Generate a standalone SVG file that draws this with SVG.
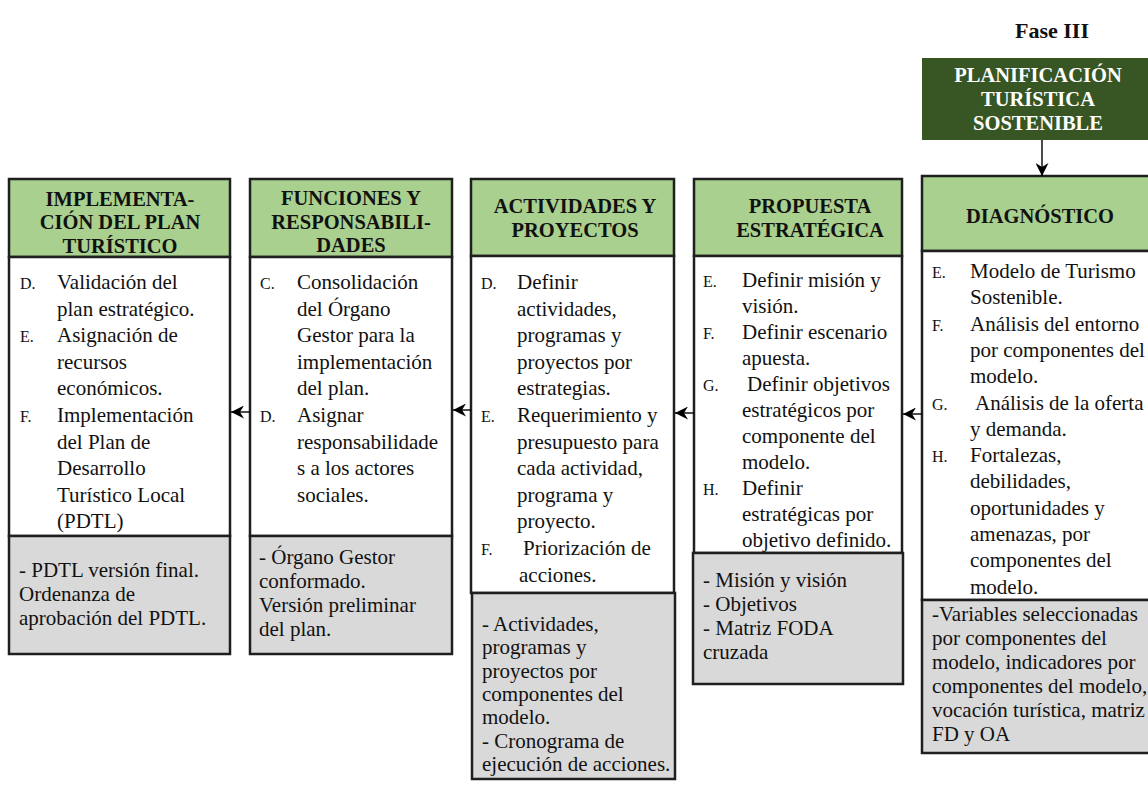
<svg xmlns="http://www.w3.org/2000/svg" width="1148" height="790" viewBox="0 0 1148 790">
<defs>
<style>
text{font-family:"Liberation Serif","Times New Roman",serif;fill:#111;}
.hd{fill:#A9D08E;stroke:#1f1f1f;stroke-width:2.5;}
.bd{fill:#ffffff;stroke:#1f1f1f;stroke-width:2.5;}
.gr{fill:#D9D9D9;stroke:#1f1f1f;stroke-width:2.5;}
.ht{font-size:20.5px;font-weight:bold;text-anchor:middle;}
.tx{font-size:21px;}
.lb{font-size:16px;}
.gt{font-size:21px;}
.cn{stroke:#000;stroke-width:1.4;fill:none;}
</style>
<marker id="ah" markerUnits="userSpaceOnUse" markerWidth="15" markerHeight="13" refX="13" refY="6.5" orient="auto">
<path d="M0,0 L13,6.5 L0,13 L4,6.5 Z" fill="#000"/>
</marker>
</defs>
<rect width="1148" height="790" fill="#ffffff"/>

<g id="fase">
<text x="1052" y="38" style="font-size:22px;font-weight:bold;text-anchor:middle">Fase III</text>
</g>

<g id="planificacion">
<rect x="922" y="58" width="226" height="82" fill="#375623"/>
<text class="ht" x="1038" y="82" style="fill:#ffffff">PLANIFICACIÓN</text>
<text class="ht" x="1038" y="106" style="fill:#ffffff">TURÍSTICA</text>
<text class="ht" x="1038" y="130" style="fill:#ffffff">SOSTENIBLE</text>
</g>

<g id="implementacion">
<rect class="hd" x="9" y="179" width="221" height="78"/>
<rect class="bd" x="9" y="257" width="221" height="279"/>
<rect class="gr" x="9" y="536" width="221" height="118"/>
<text class="ht" x="120" y="206">IMPLEMENTA-</text>
<text class="ht" x="120" y="229">CIÓN DEL PLAN</text>
<text class="ht" x="120" y="253">TURÍSTICO</text>
<text class="lb" x="20" y="289">D.</text>
<text class="tx" x="57" y="289">Validación del</text>
<text class="tx" x="57" y="315.6">plan estratégico.</text>
<text class="lb" x="20" y="342.2">E.</text>
<text class="tx" x="57" y="342.2">Asignación de</text>
<text class="tx" x="57" y="368.8">recursos</text>
<text class="tx" x="57" y="395.4">económicos.</text>
<text class="lb" x="20" y="422">F.</text>
<text class="tx" x="57" y="422">Implementación</text>
<text class="tx" x="57" y="448.6">del Plan de</text>
<text class="tx" x="57" y="475.2">Desarrollo</text>
<text class="tx" x="57" y="501.8">Turístico Local</text>
<text class="tx" x="57" y="528.4">(PDTL)</text>
<text class="gt" x="19" y="577">- PDTL versión final.</text>
<text class="gt" x="19" y="601">Ordenanza de</text>
<text class="gt" x="19" y="625">aprobación del PDTL.</text>
</g>

<g id="funciones">
<rect class="hd" x="250" y="179" width="202" height="78"/>
<rect class="bd" x="250" y="257" width="202" height="279"/>
<rect class="gr" x="250" y="536" width="202" height="118"/>
<text class="ht" x="351" y="205">FUNCIONES Y</text>
<text class="ht" x="351" y="229">RESPONSABILI-</text>
<text class="ht" x="351" y="252">DADES</text>
<text class="lb" x="260" y="289">C.</text>
<text class="tx" x="297" y="289">Consolidación</text>
<text class="tx" x="297" y="315.6">del Órgano</text>
<text class="tx" x="297" y="342.2">Gestor para la</text>
<text class="tx" x="297" y="368.8">implementación</text>
<text class="tx" x="297" y="395.4">del plan.</text>
<text class="lb" x="260" y="422">D.</text>
<text class="tx" x="297" y="422">Asignar</text>
<text class="tx" x="297" y="448.6">responsabilidade</text>
<text class="tx" x="297" y="475.2">s a los actores</text>
<text class="tx" x="297" y="501.8">sociales.</text>
<text class="gt" x="259" y="564">- Órgano Gestor</text>
<text class="gt" x="259" y="588">conformado.</text>
<text class="gt" x="259" y="612">Versión preliminar</text>
<text class="gt" x="259" y="636">del plan.</text>
</g>

<g id="actividades">
<rect class="hd" x="471" y="179" width="203" height="77"/>
<rect class="bd" x="471" y="256" width="203" height="337"/>
<rect class="gr" x="472" y="593" width="203" height="186"/>
<text class="ht" x="575" y="213">ACTIVIDADES Y</text>
<text class="ht" x="575" y="237">PROYECTOS</text>
<text class="lb" x="481" y="289">D.</text>
<text class="tx" x="517" y="289">Definir</text>
<text class="tx" x="517" y="315.6">actividades,</text>
<text class="tx" x="517" y="342.2">programas y</text>
<text class="tx" x="517" y="368.8">proyectos por</text>
<text class="tx" x="517" y="395.4">estrategias.</text>
<text class="lb" x="481" y="422">E.</text>
<text class="tx" x="517" y="422">Requerimiento y</text>
<text class="tx" x="517" y="448.6">presupuesto para</text>
<text class="tx" x="517" y="475.2">cada actividad,</text>
<text class="tx" x="517" y="501.8">programa y</text>
<text class="tx" x="517" y="528.4">proyecto.</text>
<text class="lb" x="481" y="555">F.</text>
<text class="tx" x="523" y="555">Priorización de</text>
<text class="tx" x="519" y="581.6">acciones.</text>
<text class="gt" x="482" y="631">- Actividades,</text>
<text class="gt" x="482" y="654.3">programas y</text>
<text class="gt" x="482" y="677.6">proyectos por</text>
<text class="gt" x="482" y="700.9">componentes del</text>
<text class="gt" x="482" y="724.2">modelo.</text>
<text class="gt" x="482" y="747.5">- Cronograma de</text>
<text class="gt" x="482" y="770.8">ejecución de acciones.</text>
</g>

<g id="propuesta">
<rect class="hd" x="694" y="179" width="208" height="77"/>
<rect class="bd" x="694" y="256" width="208" height="297"/>
<rect class="gr" x="693" y="553" width="210" height="131"/>
<text class="ht" x="810" y="213">PROPUESTA</text>
<text class="ht" x="810" y="237">ESTRATÉGICA</text>
<text class="lb" x="703" y="287">E.</text>
<text class="tx" x="742" y="287">Definir misión y</text>
<text class="tx" x="742" y="313">visión.</text>
<text class="lb" x="703" y="339">F.</text>
<text class="tx" x="742" y="339">Definir escenario</text>
<text class="tx" x="742" y="365">apuesta.</text>
<text class="lb" x="703" y="391">G.</text>
<text class="tx" x="747" y="391">Definir objetivos</text>
<text class="tx" x="742" y="417">estratégicos por</text>
<text class="tx" x="742" y="443">componente del</text>
<text class="tx" x="742" y="469">modelo.</text>
<text class="lb" x="703" y="495">H.</text>
<text class="tx" x="742" y="495">Definir</text>
<text class="tx" x="742" y="521">estratégicas por</text>
<text class="tx" x="742" y="547">objetivo definido.</text>
<text class="gt" x="703" y="587">- Misión y visión</text>
<text class="gt" x="703" y="611">- Objetivos</text>
<text class="gt" x="703" y="635">- Matriz FODA</text>
<text class="gt" x="703" y="659">cruzada</text>
</g>

<g id="diagnostico">
<rect class="hd" x="922" y="176" width="240" height="75"/>
<rect class="bd" x="922" y="251" width="240" height="349"/>
<rect class="gr" x="922" y="600" width="240" height="153"/>
<text class="ht" x="1040" y="223">DIAGNÓSTICO</text>
<text class="lb" x="932" y="278">E.</text>
<text class="tx" x="970" y="278">Modelo de Turismo</text>
<text class="tx" x="970" y="304.3">Sostenible.</text>
<text class="lb" x="932" y="330.6">F.</text>
<text class="tx" x="970" y="330.6">Análisis del entorno</text>
<text class="tx" x="970" y="356.9">por componentes del</text>
<text class="tx" x="970" y="383.2">modelo.</text>
<text class="lb" x="932" y="409.5">G.</text>
<text class="tx" x="975" y="409.5">Análisis de la oferta</text>
<text class="tx" x="970" y="435.8">y demanda.</text>
<text class="lb" x="932" y="462.1">H.</text>
<text class="tx" x="970" y="462.1">Fortalezas,</text>
<text class="tx" x="970" y="488.4">debilidades,</text>
<text class="tx" x="970" y="514.7">oportunidades y</text>
<text class="tx" x="970" y="541">amenazas, por</text>
<text class="tx" x="970" y="567.3">componentes del</text>
<text class="tx" x="970" y="593.6">modelo.</text>
<text class="gt" x="932" y="621">-Variables seleccionadas</text>
<text class="gt" x="932" y="645">por componentes del</text>
<text class="gt" x="932" y="669">modelo, indicadores por</text>
<text class="gt" x="932" y="693">componentes del modelo,</text>
<text class="gt" x="932" y="717">vocación turística, matriz</text>
<text class="gt" x="932" y="741">FD y OA</text>
</g>

<g id="connectors">
<line class="cn" x1="1042" y1="140" x2="1042" y2="176" marker-end="url(#ah)"/>
<line class="cn" x1="922" y1="414" x2="903" y2="414" marker-end="url(#ah)"/>
<line class="cn" x1="694" y1="413" x2="675" y2="413" marker-end="url(#ah)"/>
<line class="cn" x1="471" y1="410" x2="453" y2="410" marker-end="url(#ah)"/>
<line class="cn" x1="250" y1="412" x2="231" y2="412" marker-end="url(#ah)"/>
</g>
</svg>
